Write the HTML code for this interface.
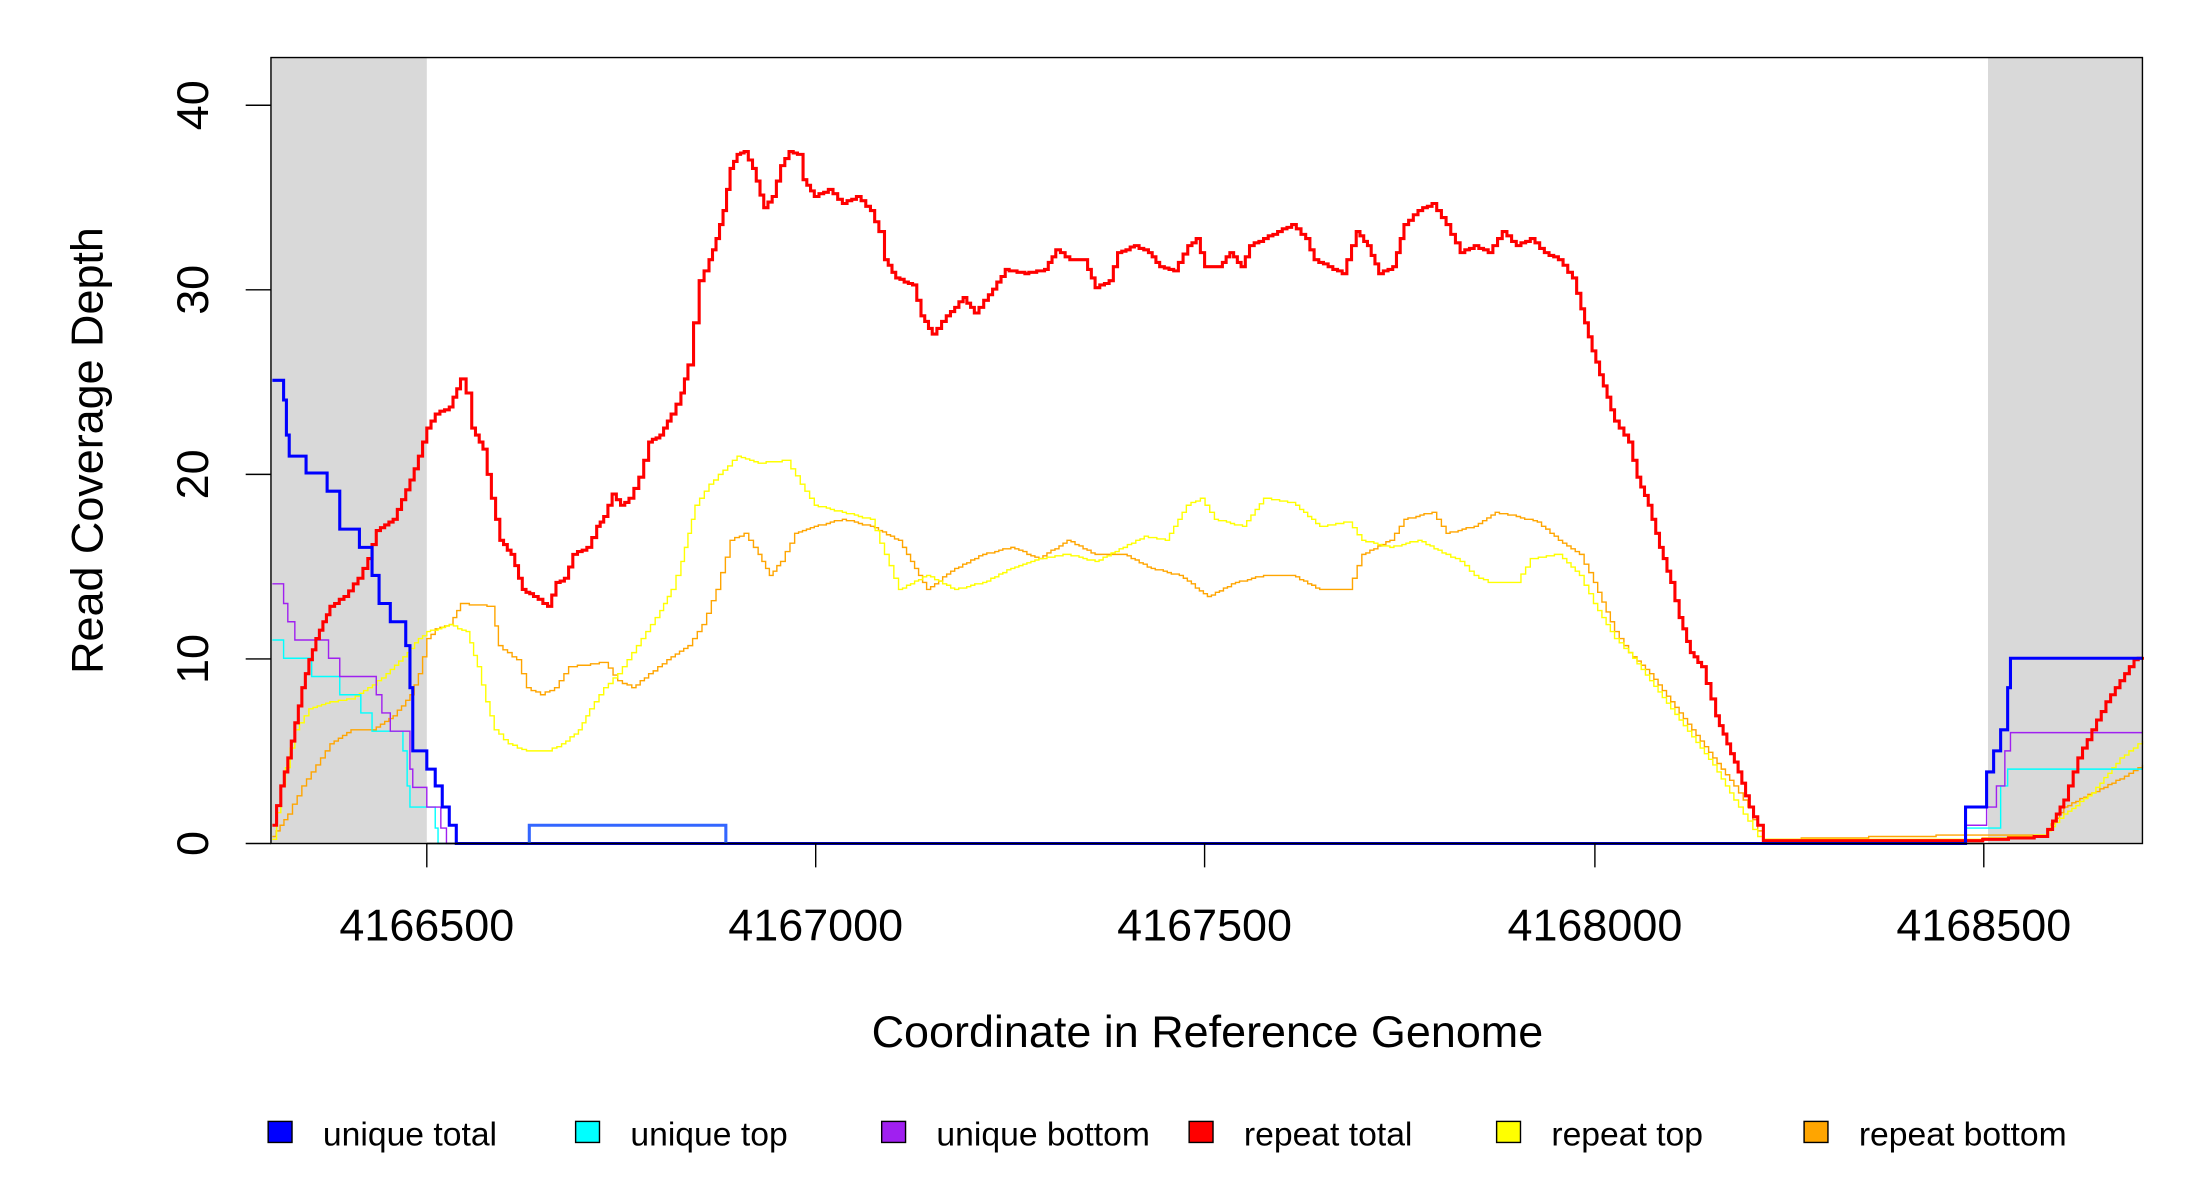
<!DOCTYPE html>
<html><head><meta charset="utf-8"><style>html,body{margin:0;padding:0;background:#fff}svg{display:block}</style></head>
<body>
<svg id="s" width="2200" height="1200" viewBox="0 0 1567 855" preserveAspectRatio="none" xmlns="http://www.w3.org/2000/svg" font-family="Liberation Sans, sans-serif">
<rect x="0" y="0" width="1567" height="855" fill="#fff"/>
<rect x="193" y="41" width="111" height="560" fill="#d9d9d9"/>
<rect x="1416" y="41" width="110" height="560" fill="#d9d9d9"/>
<g id="series" fill="none" stroke-linejoin="miter"></g>
<rect x="193" y="41" width="1333" height="560" fill="none" stroke="#000" stroke-width="1"/>
<g stroke="#000" stroke-width="1">
<line x1="175" y1="601" x2="193" y2="601"/>
<line x1="175" y1="469.5" x2="193" y2="469.5"/>
<line x1="175" y1="338" x2="193" y2="338"/>
<line x1="175" y1="206.5" x2="193" y2="206.5"/>
<line x1="175" y1="75" x2="193" y2="75"/>
<line x1="304" y1="601" x2="1413" y2="601"/>
<line x1="304" y1="601" x2="304" y2="618"/>
<line x1="581" y1="601" x2="581" y2="618"/>
<line x1="858" y1="601" x2="858" y2="618"/>
<line x1="1136" y1="601" x2="1136" y2="618"/>
<line x1="1413" y1="601" x2="1413" y2="618"/>
</g>
<g font-size="32" text-anchor="middle" fill="#000">
<text transform="translate(148,601) rotate(-90)">0</text>
<text transform="translate(148,469.5) rotate(-90)">10</text>
<text transform="translate(148,338) rotate(-90)">20</text>
<text transform="translate(148,206.5) rotate(-90)">30</text>
<text transform="translate(148,75) rotate(-90)">40</text>
<text x="304" y="670">4166500</text>
<text x="581" y="670">4167000</text>
<text x="858" y="670">4167500</text>
<text x="1136" y="670">4168000</text>
<text x="1413" y="670">4168500</text>
<text x="860" y="746" font-size="32">Coordinate in Reference Genome</text>
<text transform="translate(73,321) rotate(-90)" font-size="32">Read Coverage Depth</text>
</g>
<g font-size="24" fill="#000" stroke="#000" stroke-width="1">
<rect x="191" y="799" width="17" height="15" fill="#0000ff"/><text x="230" y="816" stroke="none">unique total</text>
<rect x="410" y="799" width="17" height="15" fill="#00ffff"/><text x="449" y="816" stroke="none">unique top</text>
<rect x="628" y="799" width="17" height="15" fill="#a020f0"/><text x="667" y="816" stroke="none">unique bottom</text>
<rect x="847" y="799" width="17" height="15" fill="#ff0000"/><text x="886" y="816" stroke="none">repeat total</text>
<rect x="1066" y="799" width="17" height="15" fill="#ffff00"/><text x="1105" y="816" stroke="none">repeat top</text>
<rect x="1285" y="799" width="17" height="15" fill="#ffa500"/><text x="1324" y="816" stroke="none">repeat bottom</text>
</g>
</svg>
<script>
function stepPath(p){var d="M"+p[0]+" "+p[1];for(var i=2;i<p.length;i+=2){d+=" H"+p[i]+" V"+p[i+1];}return d;}
var S=[
["#ffa500",1,1,[194,596,205,580,215,560,225,545,235,530,250,520,265,520,280,510,292,495,298,480,304,455,310,448,320,445,328,430,350,432,355,460,368,470,375,490,385,495,395,490,405,475,430,472,440,485,450,490,462,480,475,470,490,460,500,445,510,420,520,385,530,380,540,395,548,410,556,400,566,380,580,375,600,370,620,375,640,385,660,420,680,405,700,395,720,390,740,398,760,385,780,395,800,395,820,405,840,410,860,425,880,415,900,410,920,410,940,420,960,420,970,395,990,385,1000,370,1020,365,1030,380,1050,375,1065,365,1080,368,1095,372,1110,385,1125,395,1135,415,1150,450,1160,465,1175,480,1190,500,1205,520,1220,540,1235,560,1245,575,1252,592,1256,598,1400,595,1455,595,1470,575,1490,565,1510,555,1526,545]],
["#ffff00",1,1,[194,598,200,560,210,520,220,505,235,500,250,498,262,490,275,480,290,465,298,455,304,450,312,448,320,445,332,450,340,475,346,500,352,520,362,530,375,535,390,535,400,530,412,520,420,505,430,490,440,480,450,465,460,450,470,435,478,420,485,400,490,380,495,360,505,345,515,335,525,325,540,330,560,328,570,345,580,360,600,365,620,370,630,395,640,420,660,410,680,420,700,415,720,405,740,398,760,395,780,400,800,390,815,382,830,385,845,360,855,355,865,370,885,375,900,355,920,358,940,375,960,372,970,385,990,390,1010,385,1030,395,1040,400,1050,410,1060,415,1080,415,1090,398,1110,395,1125,410,1135,430,1150,455,1160,465,1175,485,1190,505,1205,525,1220,545,1235,570,1245,585,1252,596,1256,598,1400,598,1455,595,1470,580,1490,565,1510,540,1526,528]],
["#00ffff",1,0,[194,456,202,469,222,482,242,495,257,508,265,521,287,535,290,560,292,575,310,590,312,601,1400,601,1400,590,1420,590,1425,560,1430,548,1526,548]],
["#a020f0",1,0,[194,416,202,430,205,443,210,456,234,469,242,482,268,495,272,508,278,521,292,548,294,561,304,575,314,590,318,601,1400,601,1400,588,1410,588,1415,575,1422,560,1428,535,1432,522,1526,522]],
["#ff0000",2.2,1,[194,588,200,560,205,540,210,515,215,490,220,470,225,455,230,443,235,432,245,425,255,412,262,398,268,378,280,370,292,342,298,325,304,305,310,295,320,290,328,270,332,280,336,305,344,320,350,355,356,385,364,395,372,420,380,425,390,432,396,415,402,412,408,395,418,390,425,375,430,368,436,352,442,360,448,355,455,340,462,315,470,310,478,295,485,280,490,260,494,230,498,200,505,185,510,170,515,150,520,120,525,110,530,108,536,120,544,148,550,140,556,118,562,108,568,110,572,128,580,140,590,135,600,145,610,140,620,150,626,165,630,185,638,198,650,203,656,225,664,238,674,225,686,212,694,223,704,210,716,192,730,195,744,192,752,178,762,185,772,185,780,205,790,200,796,180,808,175,818,180,826,190,836,193,846,175,852,170,858,190,868,190,876,180,884,190,890,175,900,170,910,165,920,160,930,170,936,185,946,190,956,195,966,165,974,175,982,195,992,190,1000,160,1010,150,1020,145,1030,160,1040,180,1050,175,1060,180,1070,165,1080,175,1090,170,1100,180,1110,185,1120,198,1126,220,1134,250,1142,275,1150,300,1160,315,1166,340,1174,360,1182,390,1190,415,1196,440,1204,465,1212,475,1222,510,1230,530,1238,550,1246,575,1252,588,1256,599,1400,599,1455,596,1462,585,1470,570,1480,540,1490,520,1500,500,1510,485,1520,470,1526,468]],
["#0000ff",2.2,0,[194,271,200,271,202,285,204,310,206,325,218,337,233,350,242,377,256,390,263,390,265,410,270,430,278,443,287,443,289,460,292,490,294,535,304,548,310,560,315,575,320,588,325,601,1400,601,1400,575,1410,575,1415,550,1420,535,1425,520,1430,490,1432,469,1526,469]]
];
var g=document.getElementById("series"),ns="http://www.w3.org/2000/svg";
function dens(p){var o=[p[0],p[1]];for(var i=2;i<p.length;i+=2){var x0=p[i-2],y0=p[i-1],x1=p[i],y1=p[i+1];var n=Math.max(1,Math.round((x1-x0)/3));for(var k=1;k<=n;k++){o.push(x0+(x1-x0)*k/n,Math.round(y0+(y1-y0)*k/n));}}return o;}
S.forEach(function(s){var el=document.createElementNS(ns,"path");var pts=s[2]?dens(s[3]):s[3];el.setAttribute("d",stepPath(pts));el.setAttribute("stroke",s[0]);el.setAttribute("stroke-width",s[1]);g.appendChild(el);});
var b=document.createElementNS(ns,"path");b.setAttribute("d","M377 601 V588 H517 V601");b.setAttribute("stroke","#3366ff");b.setAttribute("stroke-width","2.2");b.setAttribute("fill","none");g.appendChild(b);
</script>
</body></html>
